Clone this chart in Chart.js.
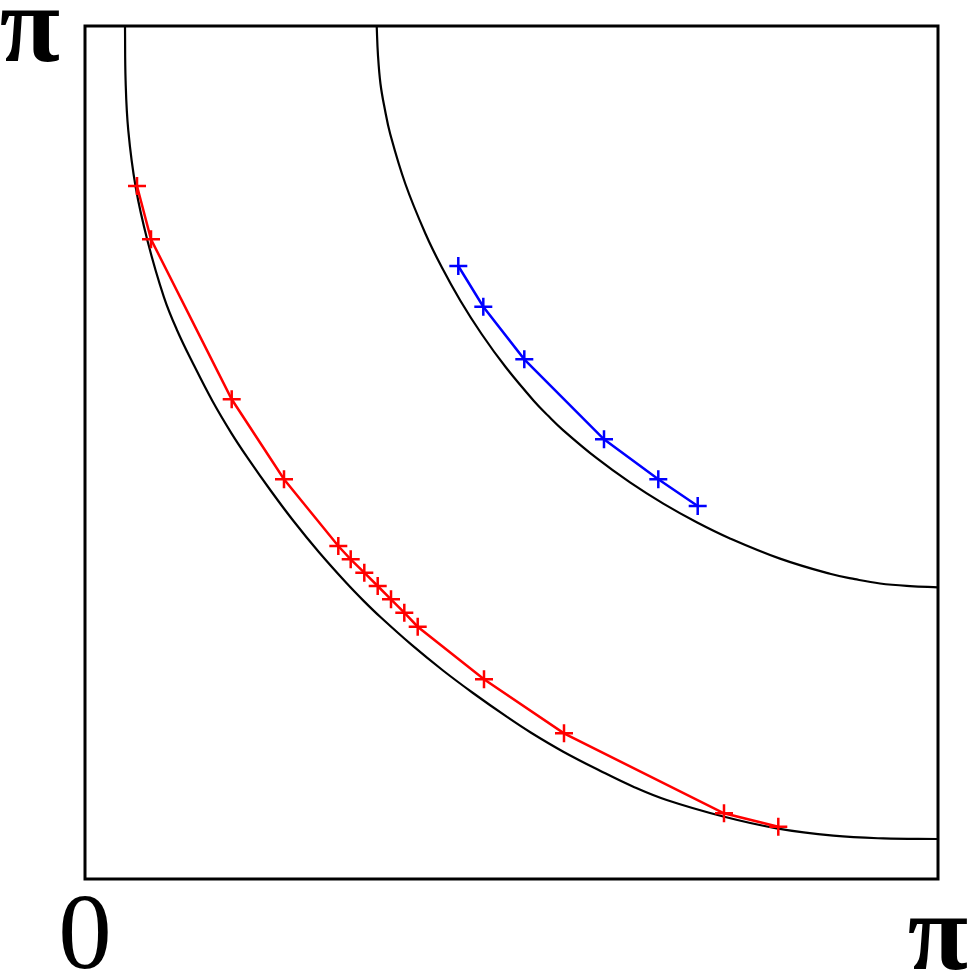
<!DOCTYPE html>
<html>
<head>
<meta charset="utf-8">
<script src="https://cdn.jsdelivr.net/npm/chart.js@4.4.1/dist/chart.umd.min.js"></script>
<style>
html,body{margin:0;padding:0;background:#fff;}
#wrap{width:980px;height:980px;}
</style>
</head>
<body>
<div id="wrap"><canvas id="c" width="980" height="980"></canvas></div>
<script>
// Axis range and labels
const axisMin = 0;
const axisMax = Math.PI;
const xTickLabels = ["0", "π"];
const yTickLabels = ["π"];

// Inner black curve
const innerX = [0.14732,0.14953,0.15947,0.18673,0.23019,0.29096,0.33994,0.39887,0.46885,0.53956,0.59775,0.68504,0.76791,0.86109,0.96384,1.02535,1.08906,1.20434,1.31851,1.42900,1.55312,1.64151,1.76158,1.89675,2.01939,2.14240,2.35086,2.54753,2.75599,2.94014,3.14159];
const innerY = [3.14159,2.94014,2.75599,2.54753,2.35086,2.14240,2.01939,1.89675,1.76158,1.64151,1.55312,1.42900,1.31851,1.20434,1.08906,1.02535,0.96384,0.86109,0.76791,0.68504,0.59775,0.53956,0.46885,0.39887,0.33994,0.29096,0.23019,0.18673,0.15947,0.14953,0.14732];

// Outer black curve
const outerX = [1.07433,1.07875,1.08833,1.10416,1.12405,1.18003,1.25443,1.31409,1.38260,1.46068,1.54981,1.65256,1.70597,1.76158,1.88459,2.00724,2.12988,2.25289,2.37554,2.55969,2.74384,2.83591,2.92799,3.03848,3.14159];
const outerY = [3.14159,3.03848,2.92799,2.83591,2.74384,2.55969,2.37554,2.25289,2.12988,2.00724,1.88459,1.76158,1.70597,1.65256,1.54981,1.46068,1.38260,1.31409,1.25443,1.18003,1.12405,1.10416,1.08833,1.07875,1.07433];

// Red series
const redX = [0.19152,0.24308,0.54030,0.73292,0.93290,0.97857,1.02866,1.07801,1.12700,1.17598,1.22533,1.46952,1.76416,2.35344,2.55342];
const redY = [2.55232,2.35602,1.76674,1.47210,1.22644,1.17746,1.12810,1.07912,1.03014,0.98078,0.92922,0.73550,0.53661,0.24197,0.19262];

// Blue series
const blueX = [1.37486,1.46694,1.61794,1.91148,2.11146,2.25657];
const blueY = [2.25768,2.10778,1.91405,1.61942,1.47210,1.37376];

const toPts = (xs, ys) => xs.map((x, i) => ({x: x, y: ys[i]}));

const framePlugin = {
  id: 'frame',
  afterDatasetsDraw(chart) {
    const a = chart.chartArea, ctx = chart.ctx;
    ctx.save();
    ctx.strokeStyle = '#000';
    ctx.lineWidth = 3;
    ctx.strokeRect(a.left, a.top, a.right - a.left, a.bottom - a.top);
    ctx.restore();
  },
  afterDraw(chart) {
    const ctx = chart.ctx, xs = chart.scales.x, ys = chart.scales.y;
    ctx.save();
    ctx.fillStyle = '#000';
    ctx.textBaseline = 'alphabetic';
    ctx.textAlign = 'center';
    ctx.font = '107px "Liberation Serif"';
    ctx.fillText(xTickLabels[0], xs.getPixelForValue(axisMin), 968);
    ctx.font = 'bold 110px "Liberation Serif"';
    ctx.fillText(xTickLabels[1], xs.getPixelForValue(axisMax), 969);
    ctx.textAlign = 'right';
    ctx.fillText(yTickLabels[0], xs.getPixelForValue(axisMin) - 25, ys.getPixelForValue(axisMax) + 35);
    ctx.restore();
  }
};

new Chart(document.getElementById('c'), {
  type: 'scatter',
  data: {
    datasets: [
      {label: 'red', data: toPts(redX, redY), showLine: true, tension: 0,
       borderColor: '#ff0000', backgroundColor: '#ff0000', borderWidth: 2.5,
       pointStyle: 'cross', pointRadius: 9, pointBorderWidth: 2.5, pointHoverRadius: 9},
      {label: 'blue', data: toPts(blueX, blueY), showLine: true, tension: 0,
       borderColor: '#0000ff', backgroundColor: '#0000ff', borderWidth: 2.5,
       pointStyle: 'cross', pointRadius: 9, pointBorderWidth: 2.5, pointHoverRadius: 9},
      {label: 'inner', data: toPts(innerX, innerY), showLine: true, tension: 0.4,
       borderColor: '#000', borderWidth: 2.2, pointRadius: 0},
      {label: 'outer', data: toPts(outerX, outerY), showLine: true, tension: 0.4,
       borderColor: '#000', borderWidth: 2.2, pointRadius: 0}
    ]
  },
  options: {
    responsive: false,
    animation: false,
    devicePixelRatio: 1,
    layout: {padding: {left: 85, top: 26, right: 42, bottom: 101}},
    plugins: {legend: {display: false}, tooltip: {enabled: false}},
    scales: {
      x: {type: 'linear', min: axisMin, max: axisMax, display: false},
      y: {type: 'linear', min: axisMin, max: axisMax, display: false}
    }
  },
  plugins: [framePlugin]
});
</script>
</body>
</html>
